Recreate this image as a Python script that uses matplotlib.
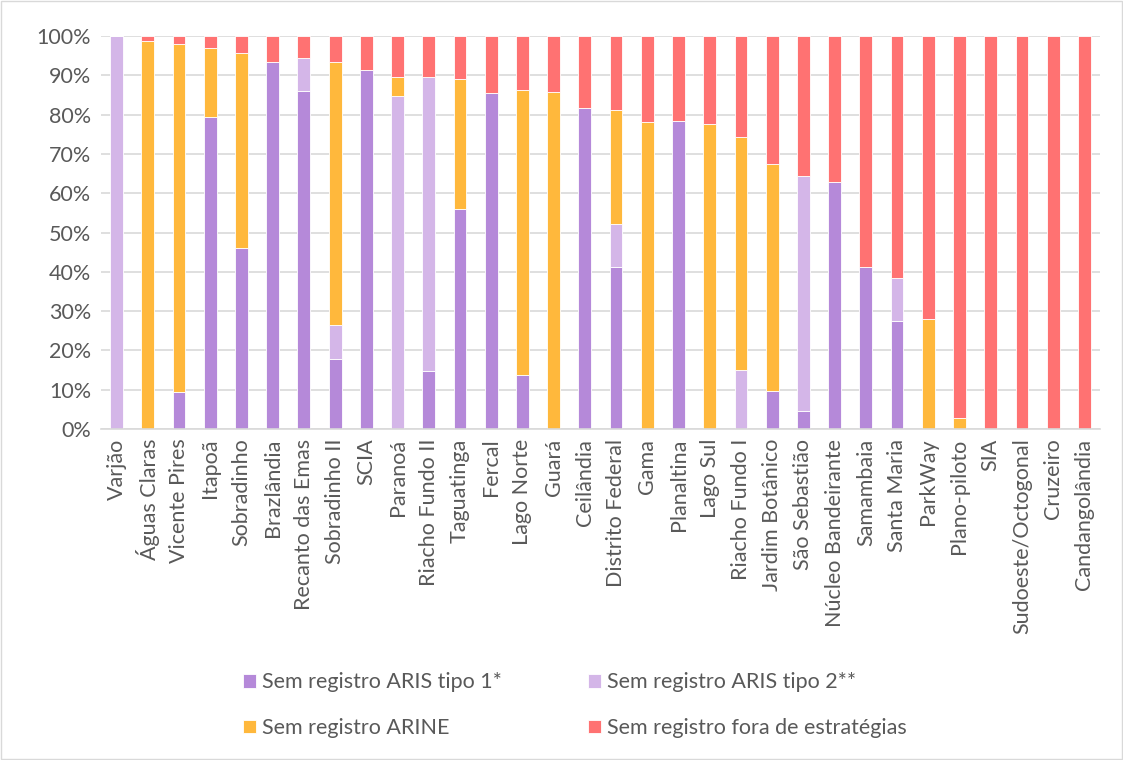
import matplotlib.pyplot as plt
import numpy as np
from matplotlib.patches import Rectangle

regioes = ['Varjão', 'Águas Claras', 'Vicente Pires', 'Itapoã', 'Sobradinho',
           'Brazlândia', 'Recanto das Emas', 'Sobradinho II', 'SCIA', 'Paranoá',
           'Riacho Fundo II', 'Taguatinga', 'Fercal', 'Lago Norte', 'Guará',
           'Ceilândia', 'Distrito Federal', 'Gama', 'Planaltina', 'Lago Sul',
           'Riacho Fundo I', 'Jardim Botânico', 'São Sebastião', 'Núcleo Bandeirante',
           'Samambaia', 'Santa Maria', 'ParkWay', 'Plano-piloto', 'SIA',
           'Sudoeste/Octogonal', 'Cruzeiro', 'Candangolândia']

# percentuais por região (%)
aris1 = [0, 0, 9.3, 79.5, 46.0, 93.3, 86.1, 17.9, 91.4, 0,
         14.7, 55.9, 85.4, 13.7, 0, 81.8, 41.3, 0, 78.3, 0,
         0, 9.6, 4.7, 62.8, 41.3, 27.6, 0, 0, 0, 0, 0, 0]
aris2 = [100, 0, 0, 0, 0, 0, 8.3, 8.6, 0, 84.7,
         75.0, 0, 0, 0, 0, 0, 10.9, 0, 0, 0,
         15.1, 0, 59.6, 0, 0, 10.8, 0, 0, 0, 0, 0, 0]
arine = [0, 98.7, 88.7, 17.5, 49.8, 0, 0, 66.9, 0, 4.9,
         0, 33.2, 0, 72.5, 85.8, 0, 28.9, 78.2, 0, 77.7,
         59.2, 57.9, 0, 0, 0, 0, 27.9, 2.7, 0, 0, 0, 0]

a1 = np.array(aris1)
a2 = np.array(aris2)
ar = np.array(arine)
fora = 100 - a1 - a2 - ar

cores = ['#B589D9', '#D4B6E8', '#FFB83C', '#FF7272']
nomes = ['Sem registro ARIS tipo 1*', 'Sem registro ARIS tipo 2**',
         'Sem registro ARINE', 'Sem registro fora de estratégias']

plt.rcParams['font.family'] = ['Lato', 'DejaVu Sans']
fs = 15.5

fig = plt.figure(figsize=(11.23, 7.6), dpi=100)
ax = fig.add_axes([0.0899, 0.4355, 0.8896, 0.5171])

x = np.arange(len(regioes))
w = 0.41
base = np.zeros(len(regioes))
barras = []
for vals, cor, nome in zip([a1, a2, ar, fora], cores, nomes):
    b = ax.bar(x, vals, w, bottom=base, color=cor, label=nome,
               edgecolor='white', linewidth=0.6)
    barras.append(b)
    base = base + vals

ax.set_xlim(-0.5, len(regioes) - 0.5)
ax.set_ylim(0, 100)
ax.set_yticks(np.arange(0, 101, 10))
ax.set_yticklabels([f'{v}%' for v in range(0, 101, 10)], fontsize=fs, color='#595959')
ax.set_xticks(x)
ax.set_xticklabels(regioes, rotation=90, fontsize=fs, color='#595959')
ax.tick_params(length=0, pad=7)
ax.grid(axis='y', color='#D9D9D9', linewidth=1.2)
ax.set_axisbelow(True)
for s in ['top', 'right', 'left']:
    ax.spines[s].set_visible(False)
ax.spines['bottom'].set_color('#D9D9D9')
ax.spines['bottom'].set_linewidth(1.2)

ordem = [barras[0], barras[2], barras[1], barras[3]]
fig.legend(ordem, [nomes[0], nomes[2], nomes[1], nomes[3]], ncol=2,
           loc='center', bbox_to_anchor=(0.512, 0.072), frameon=False,
           fontsize=fs, handlelength=0.6, handleheight=0.6, handletextpad=0.3,
           columnspacing=4.0, labelspacing=1.2, labelcolor='#595959')

fig.patches.append(Rectangle((0.001, 0.001), 0.998, 0.998, transform=fig.transFigure,
                             fill=False, edgecolor='#D9D9D9', linewidth=1))

fig.savefig('out.png', dpi=100)
